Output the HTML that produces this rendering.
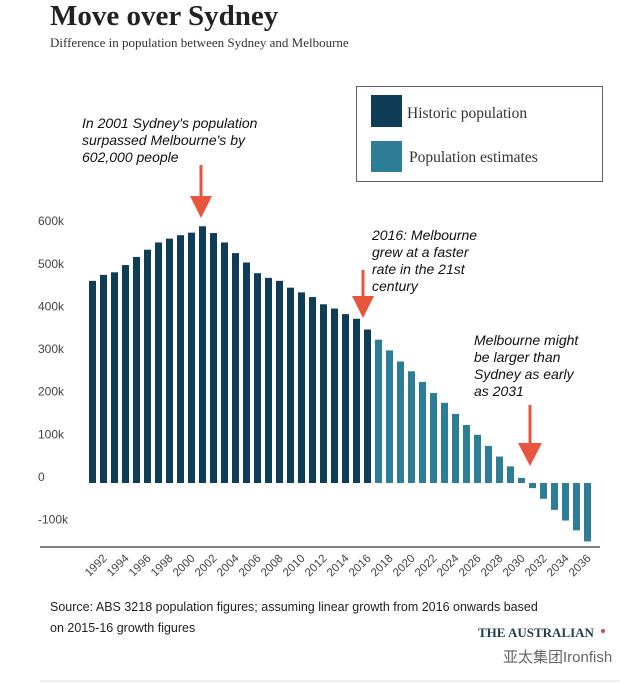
<!DOCTYPE html>
<html><head><meta charset="utf-8"><style>
body{margin:0;background:#fff;width:640px;height:683px;overflow:hidden}
svg{display:block}
.sans{font-family:"Liberation Sans",sans-serif}
.serif{font-family:"Liberation Serif",serif}
</style></head><body>
<svg id="chart" width="640" height="683" viewBox="0 0 640 683">
<text x="50" y="25" class="serif" font-size="29" font-weight="bold" fill="#222">Move over Sydney</text>
<text x="50" y="47" class="serif" font-size="13" fill="#333">Difference in population between Sydney and Melbourne</text>
<g>
<rect x="356.5" y="86.5" width="246" height="95" fill="#fff" stroke="#6a5a78" stroke-width="1"/>
<rect x="371" y="95" width="31" height="32" fill="#0f3d57"/>
<text x="407" y="118" class="serif" font-size="15.5" fill="#333">Historic population</text>
<rect x="371" y="141" width="31" height="31" fill="#2e7d96"/>
<text x="409" y="162" class="serif" font-size="15.5" fill="#333">Population estimates</text>
</g>
<g class="sans" font-size="14" font-style="italic" fill="#111">
<text><tspan x="82" y="128">In 2001 Sydney's population</tspan><tspan x="82" y="145">surpassed Melbourne's by</tspan><tspan x="82" y="162">602,000 people</tspan></text>
<text><tspan x="372" y="240">2016: Melbourne</tspan><tspan x="372" y="257">grew at a faster</tspan><tspan x="372" y="274">rate in the 21st</tspan><tspan x="372" y="291">century</tspan></text>
<text><tspan x="474" y="345">Melbourne might</tspan><tspan x="474" y="362">be larger than</tspan><tspan x="474" y="379">Sydney as early</tspan><tspan x="474" y="396">as 2031</tspan></text>
</g>
<g id="yaxis" class="sans" font-size="12" fill="#444"></g>
<g id="bars"></g>
<line x1="40" y1="547" x2="600" y2="547" stroke="#555" stroke-width="1.5"/>
<g id="xaxis" class="sans" font-size="11.5" fill="#444"></g>
<g fill="#e8553e" stroke="#e8553e">
<g><line x1="201" y1="165" x2="201" y2="200" stroke-width="3"/><polygon points="190,196 212,196 201,218" stroke="none"/></g>
<g><line x1="363" y1="270" x2="363" y2="300" stroke-width="3"/><polygon points="352,296 374,296 363,318" stroke="none"/></g>
<g><line x1="530" y1="405" x2="530" y2="446" stroke-width="3"/><polygon points="518,443 542,443 530,466" stroke="none"/></g>
</g>
<text class="sans" font-size="12.5" fill="#222"><tspan x="50" y="611">Source:  ABS 3218 population figures; assuming linear growth from 2016 onwards based</tspan><tspan x="50" y="632">on 2015-16 growth figures</tspan></text>
<text x="478" y="637" class="serif" font-size="13" font-weight="bold" fill="#1d3f4e">THE AUSTRALIAN</text>
<circle cx="603" cy="631" r="2" fill="#d44"/>
<text x="503" y="662" font-family="'Liberation Sans','Noto Sans CJK SC',sans-serif" font-size="15" fill="#666">亚太集团Ironfish</text>
<line x1="40" y1="681" x2="620" y2="681" stroke="#eee" stroke-width="2"/>
</svg>
<script>
const years = [1991,1992,1993,1994,1995,1996,1997,1998,1999,2000,2001,2002,2003,2004,2005,2006,2007,2008,2009,2010,2011,2012,2013,2014,2015,2016,2017,2018,2019,2020,2021,2022,2023,2024,2025,2026,2027,2028,2029,2030,2031,2032,2033,2034,2035,2036];
const values = [474,488,494,511,530,547,564,573,581,587,602,586,564,539,517,492,481,474,458,447,436,419,409,396,385,360,336,311,285,262,237,211,188,162,136,113,87,62,39,12,-12,-37,-63,-88,-111,-137];
const lastHistoricYear = 2016;
const yTicks = [600,500,400,300,200,100,0,-100];
const yTickLabels = ["600k","500k","400k","300k","200k","100k","0","-100k"];
const xTickYears = [1992,1994,1996,1998,2000,2002,2004,2006,2008,2010,2012,2014,2016,2018,2020,2022,2024,2026,2028,2030,2032,2034,2036];

const NS="http://www.w3.org/2000/svg";
const y0=483, kpx=0.4265;
function yScale(v){return y0 - v*kpx;}
const x0=89, step=11.0, bw=7;
function xScale(yr){return x0 + (yr-years[0])*step;}

const yg=document.getElementById('yaxis');
yTicks.forEach((t,i)=>{
  const tx=document.createElementNS(NS,'text');
  tx.setAttribute('x',38);
  tx.setAttribute('y',yScale(t)-2);
  tx.textContent=yTickLabels[i];
  
  
  yg.appendChild(tx);
});
const bg=document.getElementById('bars');
years.forEach((yr,i)=>{
  const v=values[i];
  const r=document.createElementNS(NS,'rect');
  const top=Math.min(yScale(v),y0), h=Math.abs(yScale(v)-y0);
  r.setAttribute('x',xScale(yr));
  r.setAttribute('y',top);
  r.setAttribute('width',bw);
  r.setAttribute('height',Math.max(h,1));
  r.setAttribute('fill', yr<=lastHistoricYear ? '#0f3d57' : '#2e7d96');
  
  
  bg.appendChild(r);
});
const xg=document.getElementById('xaxis');
xTickYears.forEach(yr=>{
  const cx=xScale(yr)+bw/2+4, cy=559;
  const tx=document.createElementNS(NS,'text');
  tx.setAttribute('x',cx);
  tx.setAttribute('y',cy);
  tx.setAttribute('text-anchor','end');
  tx.setAttribute('transform','rotate(-45 '+cx+' '+cy+')');
  tx.textContent=yr;
  
  
  xg.appendChild(tx);
});
</script>
</body></html>
